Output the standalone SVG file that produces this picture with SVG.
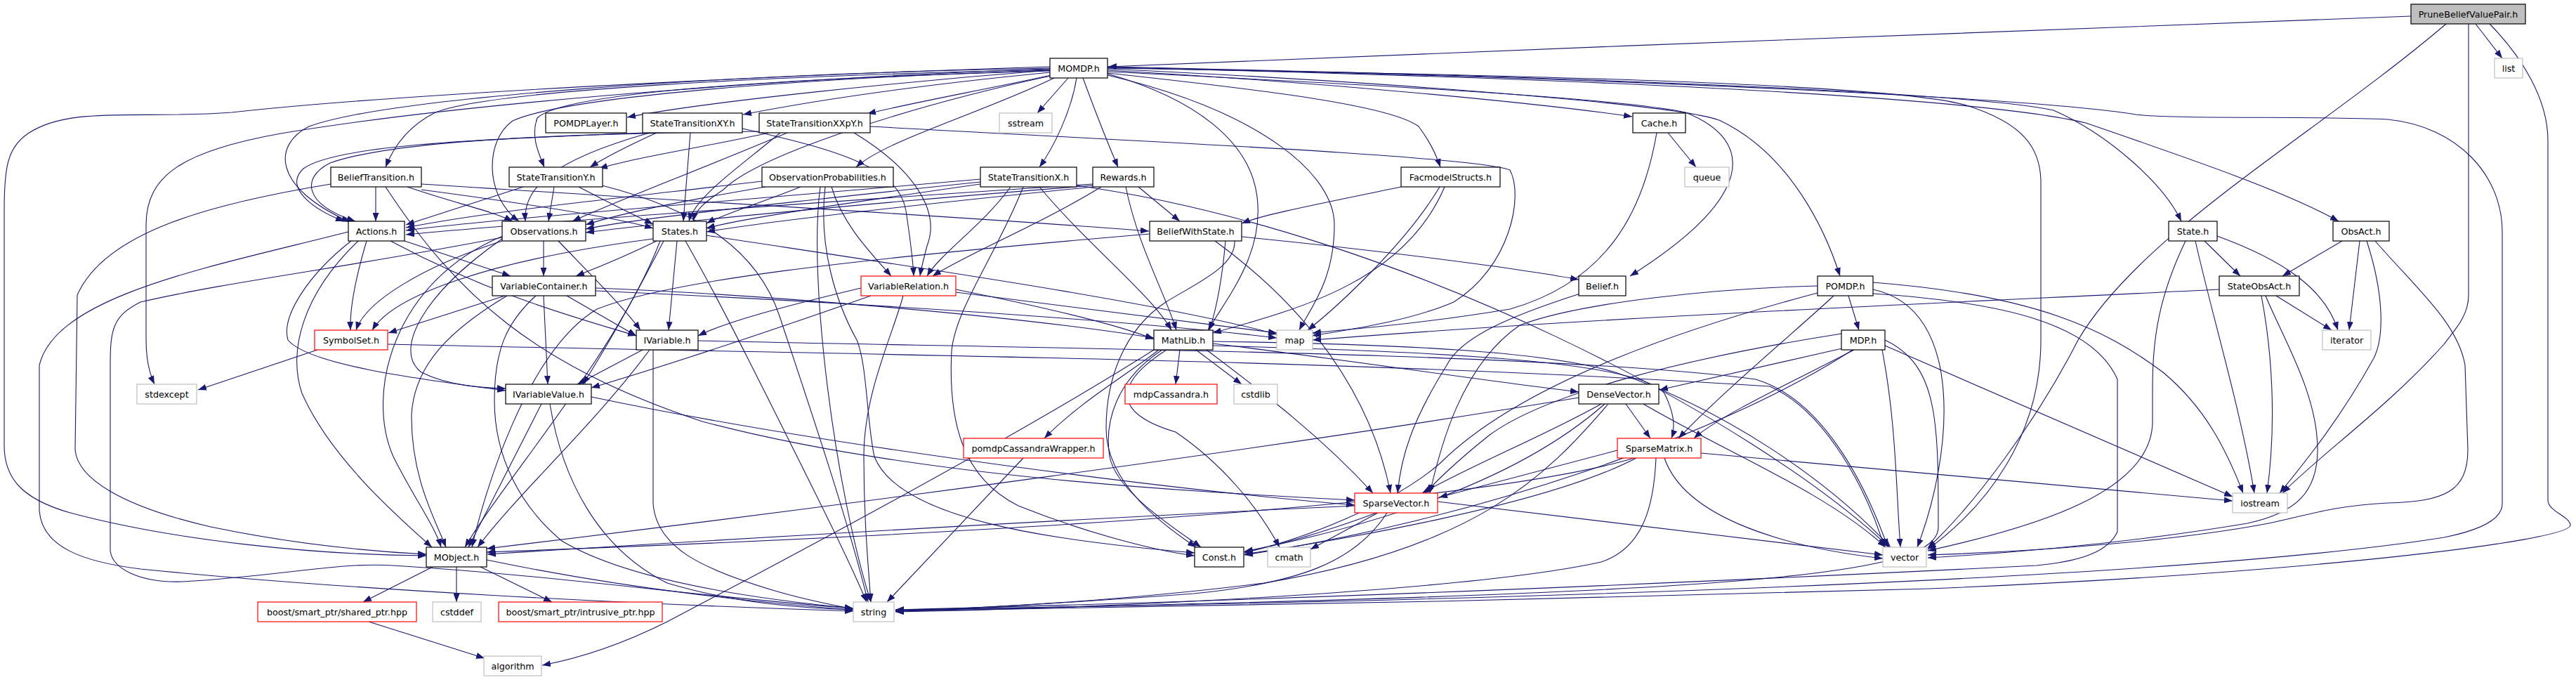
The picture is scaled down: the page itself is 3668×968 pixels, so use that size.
<svg xmlns="http://www.w3.org/2000/svg" width="3668" height="968" viewBox="0 0 3668 968">
<style>
.n rect{fill:#ffffff;stroke:#000000;stroke-width:1.2}
.n.r rect{stroke:#ff0000}
.n.g rect{stroke:#bfbfbf}
.n.root rect{fill:#bfbfbf}
.n text{font-family:"DejaVu Sans","Liberation Sans",sans-serif;font-size:12.7px;fill:#000000;text-anchor:middle}
#edges path{fill:none;stroke:#191970;stroke-width:1.1;marker-end:url(#a)}
</style>
<defs>
<marker id="a" viewBox="0 0 12 9" refX="12" refY="4.5" markerWidth="12" markerHeight="9" markerUnits="userSpaceOnUse" orient="auto"><path d="M0,0 L12,4.5 L0,9 z" fill="#191970"/></marker>
</defs>
<rect width="3668" height="968" fill="#ffffff"/>
<g id="edges">
<path d="M3433,23 C2800,45 2200,70 1578,95"/>
<path d="M3525,34 L3563,83"/>
<path d="M3483,34 C3300,190 3050,330 2959,484 C2900,600 2810,720 2745,780"/>
<path d="M3515,34 L3515,420 C3515,450 3495,470 3480,490 C3400,580 3300,650 3250,702"/>
<path d="M3545,34 C3590,80 3628,140 3628,200 L3628,712 C3628,728 3660,735 3660,748 C3655,770 3300,815 2748,838 C2300,852 1700,864 1275,870"/>
<path d="M1495,100 C1300,115 1000,145 893,167"/>
<path d="M1495,103 C1300,122 1150,145 1058,163"/>
<path d="M1497,107 C1400,128 1290,148 1235,162"/>
<path d="M1521,111 L1477,161"/>
<path d="M1495,99 C1100,108 700,128 620,160 C580,180 560,210 549,238"/>
<path d="M1495,101 C1100,112 800,132 765,168 C755,195 768,220 775,238"/>
<path d="M1501,111 C1400,160 1260,200 1219,238"/>
<path d="M1533,111 C1525,160 1500,210 1480,238"/>
<path d="M1542,111 C1560,160 1580,210 1592,238"/>
<path d="M1577,104 C1800,128 1980,150 2020,180 C2035,200 2045,220 2051,238"/>
<path d="M1577,100 C1900,118 2200,148 2324,166"/>
<path d="M1495,97 C1000,106 550,140 440,180 C390,205 385,265 498,316"/>
<path d="M1495,100 C1100,113 800,140 730,172 C690,200 690,280 739,315"/>
<path d="M1496,108 C1300,150 1080,220 1030,270 C1000,290 990,300 987,315"/>
<path d="M1577,102 C1900,118 2300,138 2400,160 C2500,200 2500,280 2321,393"/>
<path d="M1577,98 C2000,118 2400,150 2450,172 C2550,220 2600,330 2620,393"/>
<path d="M1577,95 C2200,108 2800,130 2924,157 C3000,190 3080,260 3106,315"/>
<path d="M1577,96 C2200,110 2800,135 2970,175 C3100,220 3250,270 3330,315"/>
<path d="M1577,105 C1700,140 1780,200 1790,280 C1800,360 1750,420 1720,470"/>
<path d="M1577,107 C1800,160 1900,250 1900,320 C1900,400 1865,440 1850,470"/>
<path d="M1495,95 C1200,104 600,130 330,160 C200,170 100,150 40,190 C10,210 6,240 6,300 L6,634 C6,680 30,710 100,730 C250,770 450,790 607,791"/>
<path d="M1495,98 C1200,108 700,140 400,190 C260,215 208,250 208,320 L208,484 C208,510 212,530 220,547"/>
<path d="M1577,97 C2200,107 2700,120 2800,150 C2880,175 2906,210 2906,260 L2906,484 C2906,620 2830,720 2745,782"/>
<path d="M1577,96 C2300,110 2900,140 3041,163 C3100,170 3300,165 3400,170 C3500,180 3563,250 3563,330 L3563,717 C3563,740 3530,755 3480,765 C3200,810 2500,850 1275,868"/>
<path d="M935,189 C900,205 865,222 840,238"/>
<path d="M917,189 C700,198 480,205 432,240 C402,268 450,300 490,315"/>
<path d="M925,189 C780,230 745,270 748,315"/>
<path d="M983,189 L973,315"/>
<path d="M1057,183 C1200,215 1280,240 1290,300 C1296,340 1300,370 1301,393"/>
<path d="M1095,189 C1000,210 900,225 853,240"/>
<path d="M1083,187 C800,190 560,200 470,232 C430,252 430,290 506,315"/>
<path d="M1121,189 C1000,240 880,285 815,315"/>
<path d="M1111,189 C1050,240 990,280 981,315"/>
<path d="M1216,189 C1300,240 1340,300 1320,350 C1315,370 1312,380 1310,393"/>
<path d="M1239,180 C1600,200 2100,222 2150,242 C2170,280 2150,380 2070,430 C2000,460 1900,472 1869,478"/>
<path d="M535,266 L535,315"/>
<path d="M580,266 C650,290 700,300 730,315"/>
<path d="M600,270 C750,290 880,310 930,325"/>
<path d="M600,262 C1000,288 1400,310 1636,329"/>
<path d="M471,262 C300,290 150,330 110,420 L107,640 C110,680 170,720 300,750 C420,775 530,785 607,789"/>
<path d="M549,266 C650,420 760,520 1000,600 C1300,680 1700,700 1929,712"/>
<path d="M745,266 L578,320"/>
<path d="M789,266 L781,315"/>
<path d="M824,266 C870,290 900,305 930,319"/>
<path d="M857,264 C1000,300 1080,360 1110,450 C1160,600 1210,750 1236,857"/>
<path d="M1085,258 C900,280 700,300 578,324"/>
<path d="M1090,266 C950,290 880,305 834,320"/>
<path d="M1140,266 C1080,290 1030,305 1006,318"/>
<path d="M1184,266 C1200,320 1240,360 1269,393"/>
<path d="M1175,266 C1165,350 1190,430 1220,484 C1235,520 1234,600 1245,650 C1280,740 1500,770 1701,787"/>
<path d="M1168,266 C1150,400 1190,700 1240,857"/>
<path d="M1396,255 C1000,290 700,312 578,328"/>
<path d="M1396,259 C1100,290 900,312 834,326"/>
<path d="M1396,262 C1200,290 1050,312 1006,325"/>
<path d="M1439,266 C1400,320 1340,360 1320,393"/>
<path d="M1480,266 C1550,350 1640,420 1668,470"/>
<path d="M1457,266 C1420,360 1360,440 1355,500 C1350,600 1370,680 1450,720 C1550,760 1650,785 1701,791"/>
<path d="M1533,264 C2000,330 2500,600 2690,779"/>
<path d="M1556,262 C1100,292 700,322 578,334"/>
<path d="M1556,264 C1200,292 900,322 834,331"/>
<path d="M1556,266 C1300,292 1100,314 1006,330"/>
<path d="M1568,266 C1480,320 1380,360 1328,393"/>
<path d="M1603,266 C1620,350 1660,420 1675,470"/>
<path d="M1621,266 L1680,315"/>
<path d="M1995,266 C1880,290 1800,305 1768,318"/>
<path d="M2057,266 C2000,400 1850,440 1727,474"/>
<path d="M2050,266 C2000,350 1900,440 1862,470"/>
<path d="M2375,189 L2415,238"/>
<path d="M2359,189 C2340,300 2290,400 2150,440 C2000,465 1900,470 1869,474"/>
<path d="M576,343 L727,393"/>
<path d="M522,343 C505,400 498,440 499,470"/>
<path d="M556,343 C700,420 820,452 906,478"/>
<path d="M500,343 C440,390 400,450 410,484 C440,520 600,540 720,556"/>
<path d="M510,343 C430,420 410,500 430,560 C470,650 560,730 615,779"/>
<path d="M496,330 C300,380 80,420 56,520 L56,727 C60,780 120,800 200,810 C500,840 900,860 1215,870"/>
<path d="M774,343 L774,393"/>
<path d="M715,343 C600,380 520,430 507,470"/>
<path d="M795,343 C850,400 890,440 912,470"/>
<path d="M715,340 C600,420 560,500 600,530 C640,550 690,552 720,553"/>
<path d="M716,336 C560,400 520,560 560,650 C590,710 620,750 628,779"/>
<path d="M715,338 C500,380 330,400 200,430 C160,450 157,470 157,520 L157,784 C160,810 200,830 260,828 C400,820 480,800 560,805 C800,820 1000,850 1215,866"/>
<path d="M935,343 C880,370 840,385 820,393"/>
<path d="M930,340 C700,370 560,420 530,470"/>
<path d="M964,343 L952,470"/>
<path d="M945,343 C900,430 860,500 830,547"/>
<path d="M940,343 C880,500 720,680 662,779"/>
<path d="M976,343 C1020,420 1060,500 1120,620 C1170,720 1210,800 1234,857"/>
<path d="M1006,335 C1300,380 1650,430 1818,476"/>
<path d="M1768,337 C1950,355 2150,380 2248,398"/>
<path d="M1730,343 C1850,430 1950,550 1980,702"/>
<path d="M1637,333 C1200,370 950,400 850,440 C750,500 690,700 672,779"/>
<path d="M1745,343 C1740,400 1732,440 1722,470"/>
<path d="M1758,343 C1760,380 1700,405 1660,430 C1600,470 1575,540 1575,610 C1575,690 1660,750 1703,779"/>
<path d="M3139,343 L3190,393"/>
<path d="M3157,336 C3250,370 3310,410 3329,470"/>
<path d="M3126,343 C3150,450 3190,580 3210,702"/>
<path d="M3112,343 C3075,420 3065,480 3065,550 L3065,600 C3065,700 2900,750 2745,784"/>
<path d="M3335,343 L3250,393"/>
<path d="M3360,343 L3345,470"/>
<path d="M3370,343 C3395,420 3395,480 3380,510 C3330,600 3280,660 3246,702"/>
<path d="M3382,343 C3440,410 3500,460 3510,520 L3514,640 C3514,700 3480,714 3400,716 C3320,720 3280,735 3230,745 C3100,770 2900,785 2745,790"/>
<path d="M719,421 L553,474"/>
<path d="M807,421 L906,478"/>
<path d="M774,421 L780,547"/>
<path d="M722,421 C640,470 590,520 586,590 C585,680 620,740 635,779"/>
<path d="M763,421 C720,460 704,500 704,570 C704,650 740,720 800,770 C900,830 1100,855 1215,866"/>
<path d="M848,410 C1100,420 1450,450 1643,481"/>
<path d="M848,414 C1200,430 1600,455 1818,481"/>
<path d="M1226,410 C1100,440 1030,460 994,478"/>
<path d="M1240,421 C1100,470 950,520 842,552"/>
<path d="M1286,421 C1270,480 1230,560 1230,650 C1230,740 1236,800 1240,857"/>
<path d="M1361,412 C1500,440 1600,465 1643,483"/>
<path d="M1361,416 C1550,440 1750,465 1818,474"/>
<path d="M2250,418 C2150,450 2080,480 2060,520 C2010,600 1995,650 1990,702"/>
<path d="M2632,421 L2647,470"/>
<path d="M2611,421 C2570,460 2450,560 2390,624"/>
<path d="M2588,407 C2450,410 2250,430 2164,463 C2080,520 2050,640 2036,702"/>
<path d="M2588,417 C2350,480 2150,560 2050,660 C1980,720 1850,770 1772,786"/>
<path d="M2667,402 C2900,420 3000,470 3080,530 C3140,580 3170,640 3194,702"/>
<path d="M2667,412 C2800,440 2780,650 2730,779"/>
<path d="M2667,418 C2850,430 2980,460 3015,540 L3015,757 C3000,790 2950,800 2900,805 C2400,830 1800,855 1275,868"/>
<path d="M3241,421 L3320,470"/>
<path d="M3220,421 C3235,500 3242,600 3228,702"/>
<path d="M3226,421 C3250,480 3300,560 3300,640 C3300,700 3270,730 3200,745 C3050,770 2900,785 2745,794"/>
<path d="M3160,412 C2800,430 2300,450 1869,484"/>
<path d="M452,498 L282,555"/>
<path d="M552,490 C1200,505 1900,510 2520,550 C2600,585 2660,700 2683,779"/>
<path d="M915,498 L822,547"/>
<path d="M925,498 C850,600 740,700 680,779"/>
<path d="M930,498 L930,717 C935,780 1000,810 1100,840 C1150,855 1190,862 1215,867"/>
<path d="M994,485 C1400,495 2200,500 2500,540 C2600,570 2660,700 2688,779"/>
<path d="M1680,498 L1674,547"/>
<path d="M1703,498 L1768,547"/>
<path d="M1650,498 C1610,530 1540,570 1487,624"/>
<path d="M1643,498 C1450,620 1150,780 950,885 C880,920 820,938 772,947"/>
<path d="M1655,498 C1590,540 1572,600 1580,650 C1590,700 1670,750 1710,779"/>
<path d="M1661,498 C1580,550 1590,590 1674,615 C1740,660 1790,720 1822,779"/>
<path d="M1727,489 C1900,510 2100,540 2248,558"/>
<path d="M1718,498 C1800,560 1880,620 1955,702"/>
<path d="M1727,492 C2000,500 2330,510 2370,560 C2385,590 2385,610 2380,624"/>
<path d="M1727,486 C2000,490 2200,500 2300,530 C2450,580 2600,680 2692,779"/>
<path d="M2623,496 L2363,555"/>
<path d="M2622,475 C2400,510 2200,560 2120,620 C2070,660 2040,690 2030,702"/>
<path d="M2640,498 C2560,540 2450,590 2412,624"/>
<path d="M2638,498 C2450,620 2100,740 1772,790"/>
<path d="M2680,498 C2700,600 2700,700 2706,779"/>
<path d="M2684,492 L3179,707"/>
<path d="M2684,484 C2760,520 2760,600 2760,750 C2760,820 2500,845 1275,869"/>
<path d="M771,575 L667,779"/>
<path d="M783,575 C800,680 850,780 950,830 C1050,860 1150,866 1215,868"/>
<path d="M842,565 C1200,640 1700,700 1929,719"/>
<path d="M2315,575 L2350,624"/>
<path d="M2280,575 C2200,620 2100,660 2025,702"/>
<path d="M2248,566 C1800,640 1200,720 693,781"/>
<path d="M2285,575 C2200,650 2050,730 1772,785"/>
<path d="M2340,575 C2450,640 2600,700 2685,779"/>
<path d="M2290,575 C2200,680 2100,780 1800,830 C1600,855 1400,866 1275,870"/>
<path d="M2303,641 L2049,708"/>
<path d="M2327,652 C2100,720 1400,760 693,786"/>
<path d="M2330,652 C2200,720 1900,770 1772,789"/>
<path d="M2370,652 C2400,740 2550,780 2681,795"/>
<path d="M2358,652 C2355,720 2340,780 2280,800 C2100,840 1600,865 1275,871"/>
<path d="M2422,645 L3179,713"/>
<path d="M1929,720 C1500,740 1000,770 694,789"/>
<path d="M1960,730 C1880,760 1820,775 1772,787"/>
<path d="M1962,730 L1866,782"/>
<path d="M2047,714 L2681,790"/>
<path d="M1975,730 C1930,800 1850,830 1700,845 C1500,860 1380,866 1275,870"/>
<path d="M1457,652 L1263,857"/>
<path d="M616,807 L517,857"/>
<path d="M650,807 L650,857"/>
<path d="M684,807 L786,857"/>
<path d="M693,797 C900,840 1100,860 1215,868"/>
<path d="M525,885 L690,937"/>
</g>
<g id="node-PruneBeliefValuePair" class="n root"><rect x="3433" y="6" width="163" height="28"/><text x="3514.5" y="24.5">PruneBeliefValuePair.h</text></g>
<g id="node-MOMDP" class="n"><rect x="1495" y="83" width="82" height="28"/><text x="1536" y="101.5">MOMDP.h</text></g>
<g id="node-list" class="n g"><rect x="3552" y="83" width="40" height="28"/><text x="3572" y="101.5">list</text></g>
<g id="node-POMDPLayer" class="n"><rect x="777" y="161" width="115" height="28"/><text x="834.5" y="179.5">POMDPLayer.h</text></g>
<g id="node-StateTransitionXY" class="n"><rect x="915" y="161" width="142" height="28"/><text x="986" y="179.5">StateTransitionXY.h</text></g>
<g id="node-StateTransitionXXpY" class="n"><rect x="1081" y="161" width="158" height="28"/><text x="1160" y="179.5">StateTransitionXXpY.h</text></g>
<g id="node-sstream" class="n g"><rect x="1423" y="161" width="75" height="28"/><text x="1460.5" y="179.5">sstream</text></g>
<g id="node-Cache" class="n"><rect x="2325" y="161" width="75" height="28"/><text x="2362.5" y="179.5">Cache.h</text></g>
<g id="node-BeliefTransition" class="n"><rect x="471" y="238" width="129" height="28"/><text x="535.5" y="256.5">BeliefTransition.h</text></g>
<g id="node-StateTransitionY" class="n"><rect x="725" y="238" width="133" height="28"/><text x="791.5" y="256.5">StateTransitionY.h</text></g>
<g id="node-ObservationProbabilities" class="n"><rect x="1085" y="238" width="187" height="28"/><text x="1178.5" y="256.5">ObservationProbabilities.h</text></g>
<g id="node-StateTransitionX" class="n"><rect x="1396" y="238" width="137" height="28"/><text x="1464.5" y="256.5">StateTransitionX.h</text></g>
<g id="node-Rewards" class="n"><rect x="1556" y="238" width="87" height="28"/><text x="1599.5" y="256.5">Rewards.h</text></g>
<g id="node-FacmodelStructs" class="n"><rect x="1995" y="238" width="141" height="28"/><text x="2065.5" y="256.5">FacmodelStructs.h</text></g>
<g id="node-queue" class="n g"><rect x="2399" y="238" width="63" height="28"/><text x="2430.5" y="256.5">queue</text></g>
<g id="node-Actions" class="n"><rect x="496" y="315" width="80" height="28"/><text x="536" y="333.5">Actions.h</text></g>
<g id="node-Observations" class="n"><rect x="715" y="315" width="119" height="28"/><text x="774.5" y="333.5">Observations.h</text></g>
<g id="node-States" class="n"><rect x="930" y="315" width="76" height="28"/><text x="968" y="333.5">States.h</text></g>
<g id="node-BeliefWithState" class="n"><rect x="1637" y="315" width="131" height="28"/><text x="1702.5" y="333.5">BeliefWithState.h</text></g>
<g id="node-State" class="n"><rect x="3088" y="315" width="69" height="28"/><text x="3122.5" y="333.5">State.h</text></g>
<g id="node-ObsAct" class="n"><rect x="3322" y="315" width="80" height="28"/><text x="3362" y="333.5">ObsAct.h</text></g>
<g id="node-VariableContainer" class="n"><rect x="701" y="393" width="147" height="28"/><text x="774.5" y="411.5">VariableContainer.h</text></g>
<g id="node-VariableRelation" class="n r"><rect x="1226" y="393" width="135" height="28"/><text x="1293.5" y="411.5">VariableRelation.h</text></g>
<g id="node-Belief" class="n"><rect x="2248" y="393" width="67" height="28"/><text x="2281.5" y="411.5">Belief.h</text></g>
<g id="node-POMDP" class="n"><rect x="2588" y="393" width="79" height="28"/><text x="2627.5" y="411.5">POMDP.h</text></g>
<g id="node-StateObsAct" class="n"><rect x="3160" y="393" width="114" height="28"/><text x="3217" y="411.5">StateObsAct.h</text></g>
<g id="node-SymbolSet" class="n r"><rect x="448" y="470" width="104" height="28"/><text x="500" y="488.5">SymbolSet.h</text></g>
<g id="node-IVariable" class="n"><rect x="906" y="470" width="88" height="28"/><text x="950" y="488.5">IVariable.h</text></g>
<g id="node-MathLib" class="n"><rect x="1643" y="470" width="84" height="28"/><text x="1685" y="488.5">MathLib.h</text></g>
<g id="node-map" class="n g"><rect x="1818" y="470" width="51" height="28"/><text x="1843.5" y="488.5">map</text></g>
<g id="node-MDP" class="n"><rect x="2622" y="470" width="62" height="28"/><text x="2653" y="488.5">MDP.h</text></g>
<g id="node-iterator" class="n g"><rect x="3307" y="470" width="69" height="28"/><text x="3341.5" y="488.5">iterator</text></g>
<g id="node-stdexcept" class="n g"><rect x="195" y="547" width="85" height="28"/><text x="237.5" y="565.5">stdexcept</text></g>
<g id="node-IVariableValue" class="n"><rect x="720" y="547" width="122" height="28"/><text x="781" y="565.5">IVariableValue.h</text></g>
<g id="node-mdpCassandra" class="n r"><rect x="1602" y="547" width="131" height="28"/><text x="1667.5" y="565.5">mdpCassandra.h</text></g>
<g id="node-cstdlib" class="n g"><rect x="1757" y="547" width="62" height="28"/><text x="1788" y="565.5">cstdlib</text></g>
<g id="node-DenseVector" class="n"><rect x="2248" y="547" width="114" height="28"/><text x="2305" y="565.5">DenseVector.h</text></g>
<g id="node-pomdpCassandraWrapper" class="n r"><rect x="1372" y="624" width="199" height="28"/><text x="1471.5" y="642.5">pomdpCassandraWrapper.h</text></g>
<g id="node-SparseMatrix" class="n r"><rect x="2303" y="624" width="119" height="28"/><text x="2362.5" y="642.5">SparseMatrix.h</text></g>
<g id="node-SparseVector" class="n r"><rect x="1929" y="702" width="118" height="28"/><text x="1988" y="720.5">SparseVector.h</text></g>
<g id="node-iostream" class="n g"><rect x="3179" y="702" width="78" height="28"/><text x="3218" y="720.5">iostream</text></g>
<g id="node-MObject" class="n"><rect x="607" y="779" width="86" height="28"/><text x="650" y="797.5">MObject.h</text></g>
<g id="node-Const" class="n"><rect x="1701" y="779" width="70" height="28"/><text x="1736" y="797.5">Const.h</text></g>
<g id="node-cmath" class="n g"><rect x="1805" y="779" width="61" height="28"/><text x="1835.5" y="797.5">cmath</text></g>
<g id="node-vector" class="n g"><rect x="2681" y="779" width="62" height="28"/><text x="2712" y="797.5">vector</text></g>
<g id="node-shared_ptr" class="n r"><rect x="367" y="857" width="226" height="28"/><text x="480" y="875.5">boost/smart_ptr/shared_ptr.hpp</text></g>
<g id="node-cstddef" class="n g"><rect x="616" y="857" width="69" height="28"/><text x="650.5" y="875.5">cstddef</text></g>
<g id="node-intrusive_ptr" class="n r"><rect x="710" y="857" width="233" height="28"/><text x="826.5" y="875.5">boost/smart_ptr/intrusive_ptr.hpp</text></g>
<g id="node-string" class="n g"><rect x="1215" y="857" width="58" height="28"/><text x="1244" y="875.5">string</text></g>
<g id="node-algorithm" class="n g"><rect x="689" y="934" width="82" height="28"/><text x="730" y="952.5">algorithm</text></g>
</svg>
